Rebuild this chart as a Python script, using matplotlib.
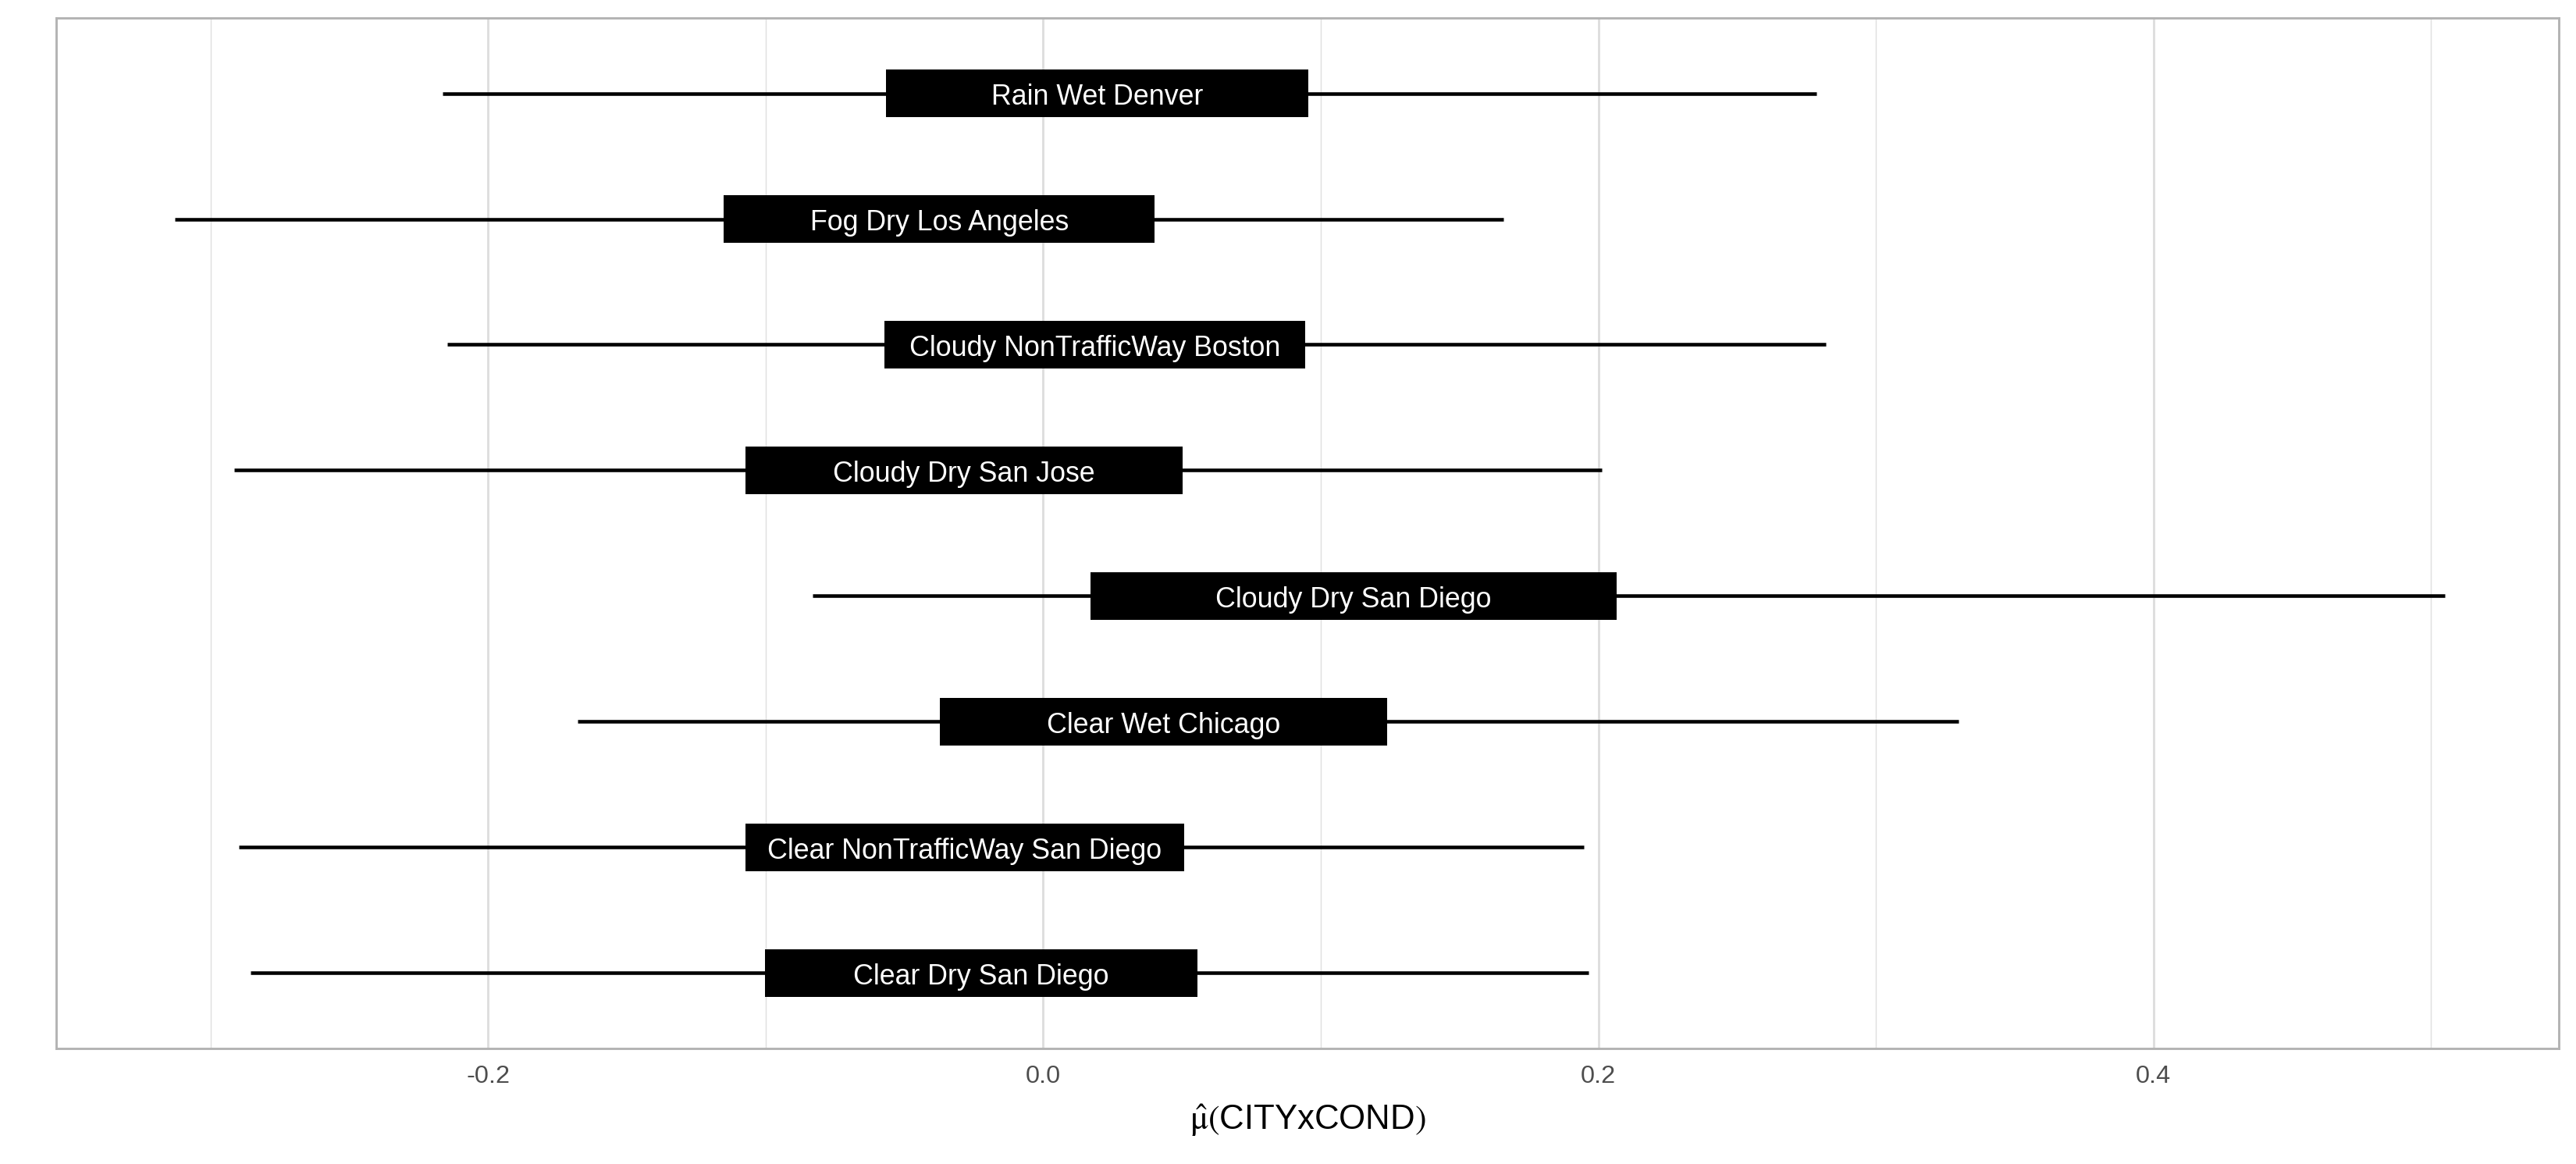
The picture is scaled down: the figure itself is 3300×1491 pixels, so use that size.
import matplotlib.pyplot as plt

# interval summaries per CITYxCOND level (bottom to top)
labels = ['Clear Dry San Diego', 'Clear NonTrafficWay San Diego', 'Clear Wet Chicago',
          'Cloudy Dry San Diego', 'Cloudy Dry San Jose', 'Cloudy NonTrafficWay Boston',
          'Fog Dry Los Angeles', 'Rain Wet Denver']
outer_lo = [-0.2855, -0.2897, -0.1676, -0.0832, -0.2914, -0.2147, -0.3127, -0.2165]
outer_hi = [0.1965, 0.1947, 0.3298, 0.5050, 0.2012, 0.2820, 0.1658, 0.2785]
inner_lo = [-0.1003, -0.1074, -0.0372, 0.0171, -0.1074, -0.0572, -0.1150, -0.0566]
inner_hi = [0.0555, 0.0507, 0.1239, 0.2065, 0.0501, 0.0944, 0.0401, 0.0956]

plt.rcParams['font.family'] = ['Liberation Sans', 'DejaVu Sans']
plt.rcParams['mathtext.fontset'] = 'stix'

fig = plt.figure(figsize=(11, 4.97), dpi=300)
ax = fig.add_axes([0.0218, 0.0993, 0.9715, 0.8853])

ypos = list(range(1, len(labels) + 1))

# grid like theme_light
for v in [-0.3, -0.1, 0.1, 0.3, 0.5]:
    ax.axvline(v, color='#e0e0e0', lw=0.35, zorder=0)
for v in [-0.2, 0.0, 0.2, 0.4]:
    ax.axvline(v, color='#dedede', lw=0.7, zorder=0)

ax.hlines(ypos, outer_lo, outer_hi, color='black', lw=1.1, zorder=2)
widths = [h - l for l, h in zip(inner_lo, inner_hi)]
ax.barh(ypos, widths, left=inner_lo, height=0.38, color='black', zorder=3)

for y, l, h, name in zip(ypos, inner_lo, inner_hi, labels):
    ax.text((l + h) / 2, y - 0.03, name, color='white', ha='center', va='center',
            fontsize=8.6, zorder=4)

ax.set_xlim(-0.3556, 0.546)
ax.set_ylim(0.4, 8.6)
ax.set_xticks([-0.2, 0.0, 0.2, 0.4])
ax.set_xticklabels(['-0.2', '0.0', '0.2', '0.4'])
ax.set_yticks([])
ax.tick_params(axis='x', length=0, labelsize=7.8, labelcolor='#4d4d4d', pad=5)
ax.set_xlabel(r'$\hat{\mathrm{\mu}}\left(\right.$CITYxCOND$\left.\right)$', fontsize=10.5, labelpad=4.5)

for s in ax.spines.values():
    s.set_color('#b3b3b3')
    s.set_linewidth(0.7)

fig.savefig('out.png', dpi=300)
